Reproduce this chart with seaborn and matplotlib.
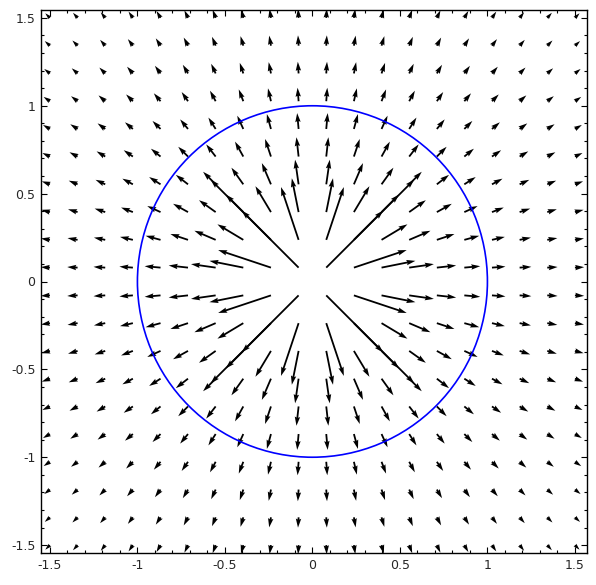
import numpy as np
import matplotlib
matplotlib.use("Agg")
import matplotlib.pyplot as plt
from matplotlib.ticker import MultipleLocator
import seaborn as sns

# grid of sample points (20 per axis, -1.5 .. 1.5)
grid_x = [-1.5, -1.342, -1.184, -1.026, -0.868, -0.711, -0.553, -0.395, -0.237, -0.079,
          0.079, 0.237, 0.395, 0.553, 0.711, 0.868, 1.026, 1.184, 1.342, 1.5]
grid_y = [-1.5, -1.342, -1.184, -1.026, -0.868, -0.711, -0.553, -0.395, -0.237, -0.079,
          0.079, 0.237, 0.395, 0.553, 0.711, 0.868, 1.026, 1.184, 1.342, 1.5]
circle_center = (0, 0)
circle_radius = 1

sns.set_style("ticks")
plt.rcParams["font.family"] = ["DejaVu Sans"]
plt.rcParams["axes.unicode_minus"] = False

# radial field x/(x^2+y^2), y/(x^2+y^2)
X, Y = np.meshgrid(grid_x, grid_y)
R2 = X**2 + Y**2
U = X / R2
V = Y / R2

fig = plt.figure(figsize=(5.96, 5.85), dpi=100)
ax = fig.add_axes([41/596, 1 - 553/585, 546/596, 543/585])

ax.quiver(X, Y, U, V, pivot="tail", color="black", width=0.0033)
ax.add_patch(plt.Circle(circle_center, circle_radius, fill=False,
                        color="blue", linewidth=1.2))

ax.set_xlim(-1.551, 1.569)
ax.set_ylim(-1.545, 1.545)

ax.xaxis.set_major_locator(MultipleLocator(0.5))
ax.yaxis.set_major_locator(MultipleLocator(0.5))
ax.xaxis.set_minor_locator(MultipleLocator(0.1))
ax.yaxis.set_minor_locator(MultipleLocator(0.1))
ax.xaxis.set_major_formatter(lambda v, p: f"{v:g}")
ax.yaxis.set_major_formatter(lambda v, p: f"{v:g}")
ax.tick_params(which="both", direction="in", top=True, right=True,
               labelsize=9, width=0.8, color="black")
ax.tick_params(which="major", length=4, pad=4)
ax.tick_params(which="minor", length=2)
for s in ax.spines.values():
    s.set_linewidth(1)
    s.set_color("black")

plt.savefig("out.png", dpi=100)
